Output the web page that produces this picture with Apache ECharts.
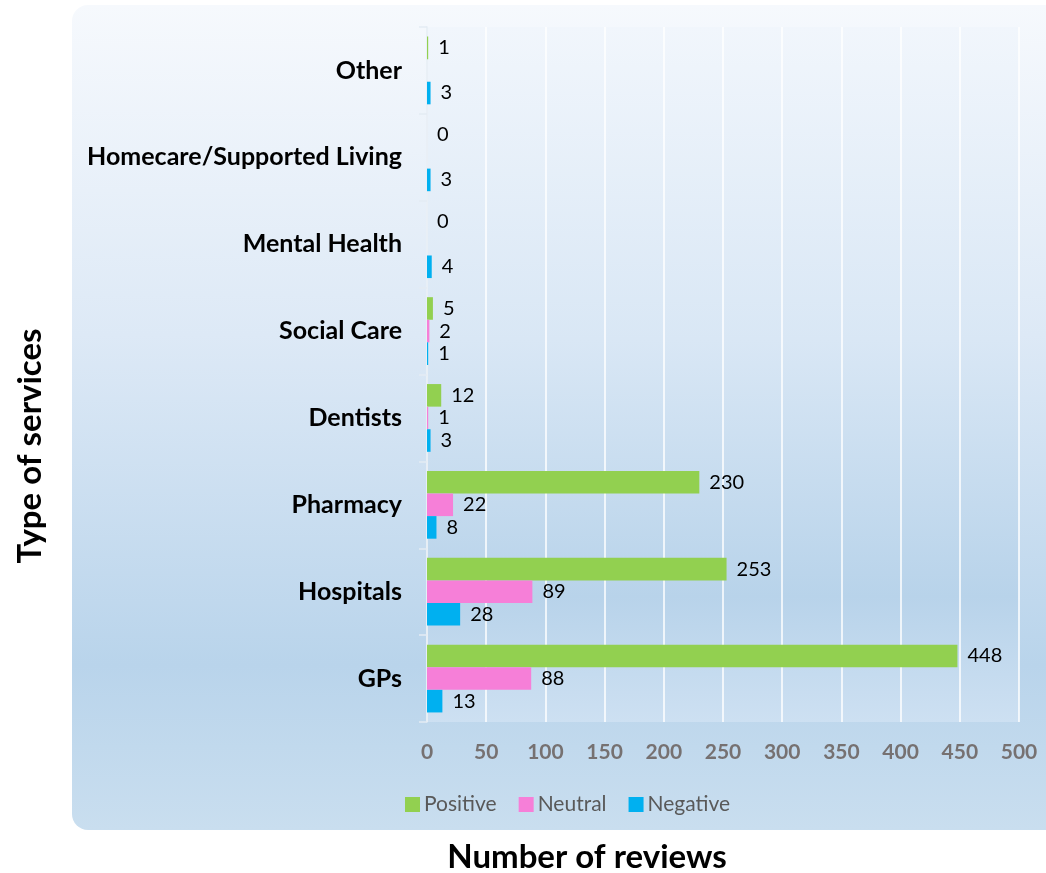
<!DOCTYPE html>
<html>
<head>
<meta charset="utf-8">
<script src="https://cdn.jsdelivr.net/npm/echarts@6/dist/echarts.min.js"></script>
<style>
html,body{margin:0;padding:0;background:#fff;}
#chart{width:1046px;height:873px;}
</style>
</head>
<body>
<div id="chart"></div>
<script>
const categories = ['GPs', 'Hospitals', 'Pharmacy', 'Dentists', 'Social Care', 'Mental Health', 'Homecare/Supported Living', 'Other'];
const positive = [448, 253, 230, 12, 5, 0, 0, 1];
const neutral = [88, 89, 22, 1, 2, null, null, null];
const negative = [13, 28, 8, 3, 1, 4, 3, 3];
const xTicks = [0, 50, 100, 150, 200, 250, 300, 350, 400, 450, 500];
const seriesNames = ['Positive', 'Neutral', 'Negative'];
const colors = ['#92d050', '#f67fd8', '#00b0f0'];
const xTitle = 'Number of reviews';
const yTitle = 'Type of services';

const chart = echarts.init(document.getElementById('chart'));
const FONT = 'Lato, "Open Sans", sans-serif';

const labelCfg = {
  show: true, position: 'right', distance: 10,
  color: '#000', fontSize: 20, fontFamily: FONT
};

function mk(name, data, color) {
  return {
    name: name, type: 'bar', data: data,
    itemStyle: { color: color },
    label: labelCfg,
    barGap: '0%', barCategoryGap: '22%'
  };
}

const option = {
  animation: false,
  graphic: [
    {
      type: 'rect', z: -10, silent: true,
      shape: { x: 72, y: 5, width: 1000, height: 825, r: 16 },
      style: {
        fill: new echarts.graphic.LinearGradient(0, 0, 0, 1, [
          { offset: 0, color: '#f6f9fd' },
          { offset: 0.4, color: '#dde9f6' },
          { offset: 0.8, color: '#b9d4eb' },
          { offset: 1, color: '#c9deef' }
        ])
      }
    },
    {
      type: 'rect', z: -9, silent: true,
      shape: { x: 427, y: 27, width: 592, height: 695 },
      style: {
        fill: new echarts.graphic.LinearGradient(0, 0, 0, 1, [
          { offset: 0, color: '#f1f6fc' },
          { offset: 0.45, color: '#d9e7f5' },
          { offset: 0.82, color: '#b8d3ea' },
          { offset: 1, color: '#cde0f2' }
        ])
      }
    },
    {
      type: 'text', silent: true,
      x: 30, y: 446, rotation: Math.PI / 2,
      style: {
        text: yTitle, fontSize: 33, fontWeight: 'bold', fontFamily: FONT, fill: '#000',
        align: 'center', verticalAlign: 'middle'
      }
    },
    {
      type: 'text', silent: true,
      x: 587, y: 857,
      style: {
        text: xTitle, fontSize: 33, fontWeight: 'bold', fontFamily: FONT, fill: '#000',
        align: 'center', verticalAlign: 'middle'
      }
    }
  ],
  legend: {
    data: seriesNames,
    top: 789, left: 400,
    itemWidth: 15, itemHeight: 15, itemGap: 22,
    icon: 'rect',
    textStyle: { color: '#595959', fontSize: 21, fontFamily: FONT, padding: [0, 0, 0, -1] }
  },
  grid: { left: 427, right: 27, top: 27, bottom: 151, containLabel: false, outerBoundsMode: 'none' },
  xAxis: {
    type: 'value', min: 0, max: 500, interval: 50,
    axisLine: { show: false }, axisTick: { show: false },
    axisLabel: {
      fontSize: 21, fontWeight: 'bold', color: '#767171', fontFamily: FONT, margin: 20,
      formatter: function (v) { return xTicks.indexOf(v) >= 0 ? String(v) : ''; }
    },
    splitLine: { show: true, lineStyle: { color: '#ffffff', width: 1.5 } }
  },
  yAxis: {
    type: 'category', data: categories,
    axisLine: { show: true, lineStyle: { color: '#e3ebf3', width: 1.5 } },
    axisTick: { show: true, length: 8, lineStyle: { color: '#e3ebf3', width: 1.5 } },
    axisLabel: { fontSize: 25, fontWeight: 'bold', color: '#000', fontFamily: FONT, margin: 25 }
  },
  series: [
    mk(seriesNames[0], positive, colors[0]),
    mk(seriesNames[1], neutral, colors[1]),
    mk(seriesNames[2], negative, colors[2])
  ]
};
chart.setOption(option);
</script>
</body>
</html>
